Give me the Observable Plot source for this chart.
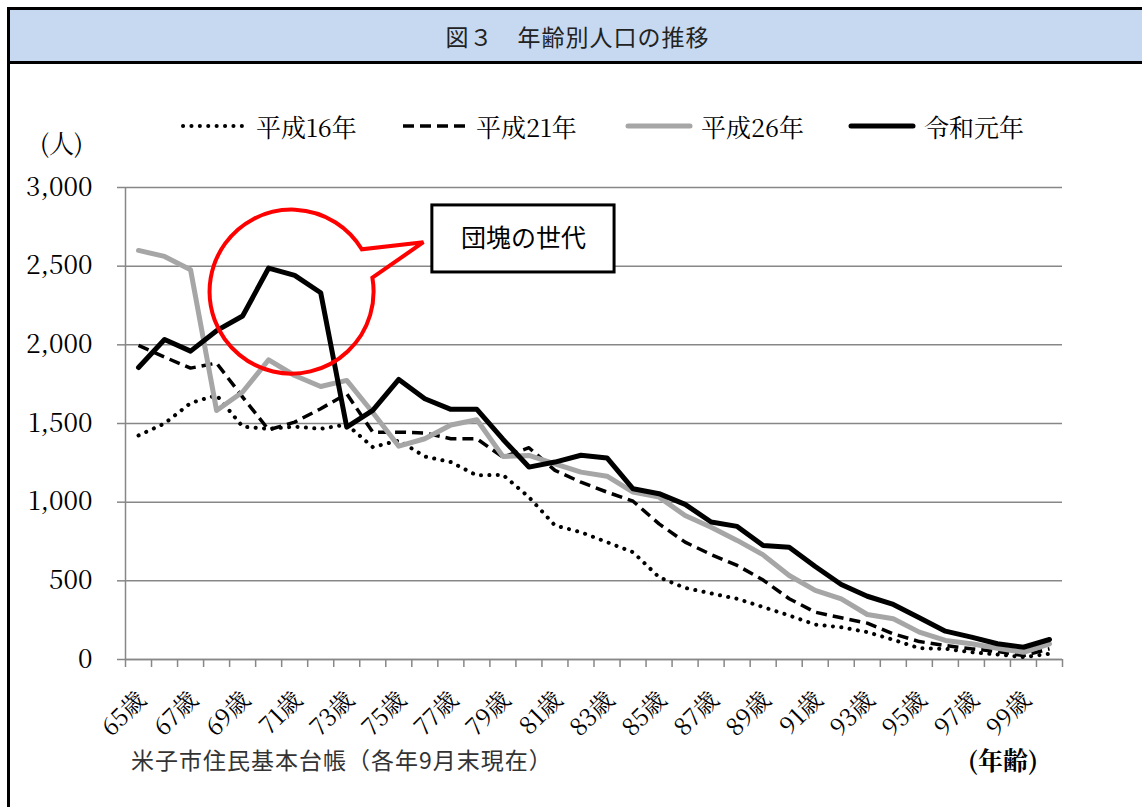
<!DOCTYPE html>
<html lang="ja">
<head>
<meta charset="utf-8">
<script src="https://cdn.jsdelivr.net/npm/d3@7"></script>
<script src="https://cdn.jsdelivr.net/npm/@observablehq/plot@0.6"></script>
<style>
  html, body { margin: 0; padding: 0; width: 1142px; height: 807px; overflow: hidden; background: #fff; }
  body { position: relative; font-family: "Noto Serif CJK JP", "Liberation Serif", serif; color: #000; }
  #frame { position: absolute; left: 7px; top: 7px; width: 1200px; height: 900px;
           border-left: 3px solid #000; border-top: 3px solid #000; }
  #header { position: absolute; left: 0; top: 0; width: 1135px; height: 51px;
            background: #c6d9f1; border-bottom: 3px solid #000;
            font-family: "Noto Sans CJK JP", sans-serif; font-size: 23px; letter-spacing: 1px; color: #222;
            display: flex; align-items: center; justify-content: center; }
  .abs { position: absolute; white-space: nowrap; }
  #unit { left: 40px; top: 124px; font-size: 25px; font-family: "Noto Serif CJK JP", serif; }
  #caption { left: 131px; top: 742px; font-size: 23px; letter-spacing: 1px; color: #333; font-family: "Noto Sans CJK JP", sans-serif; }
  #xunit { left: 968px; top: 741px; font-size: 25px; font-weight: bold; font-family: "Noto Serif CJK JP", serif; }
  .leg { position: absolute; top: 108px; display: flex; align-items: center; font-size: 25px;
         font-family: "Noto Serif CJK JP", serif; }
  .leg svg { margin-right: 8px; }
  #chart { position: absolute; left: 0; top: 160px; }
  #chart .ylab text { font-family: "Noto Serif CJK JP", "Liberation Serif", serif !important; }
  #chart .xlab text { font-family: "Noto Serif CJK JP", "Liberation Serif", serif !important; }
  #chart .callout text { font-family: "Noto Sans CJK JP", sans-serif !important; }
</style>
</head>
<body>
<div id="frame"><div id="header">図３　年齢別人口の推移</div></div>
<div id="legend"></div>
<div class="abs" id="unit">(人)</div>
<div class="abs" id="caption">米子市住民基本台帳（各年9月末現在）</div>
<div class="abs" id="xunit">(年齢)</div>
<div id="chart"></div>
<script>
// ---- data ----
const ages = [65,66,67,68,69,70,71,72,73,74,75,76,77,78,79,80,81,82,83,84,85,86,87,88,89,90,91,92,93,94,95,96,97,98,99,100];
const seriesNames = ["平成16年", "平成21年", "平成26年", "令和元年"];
const h16 = [1424,1500,1630,1680,1480,1466,1480,1466,1494,1350,1392,1290,1255,1170,1174,1032,852,809,746,682,523,455,420,386,333,280,222,205,174,125,72,68,46,32,15,36];
const h21 = [1996,1922,1852,1884,1668,1460,1509,1594,1689,1445,1445,1440,1403,1403,1286,1346,1202,1127,1064,1006,862,746,667,598,505,386,301,265,231,163,114,89,68,51,25,68];
const h26 = [2600,2562,2477,1583,1700,1905,1805,1735,1774,1570,1356,1403,1490,1524,1291,1297,1244,1191,1165,1064,1032,915,841,757,665,534,439,386,286,259,174,121,100,72,46,100];
const r1  = [1856,2034,1960,2090,2183,2488,2441,2331,1477,1583,1780,1657,1590,1590,1400,1223,1255,1298,1281,1085,1054,986,874,846,725,714,591,477,402,350,265,180,142,100,78,127];
const labelAges = [65,67,69,71,73,75,77,79,81,83,85,87,89,91,93,95,97,99];
const yTicks = [0,500,1000,1500,2000,2500,3000];
const calloutText = "団塊の世代";

// ---- styles ----
const styles = [
  {stroke: "#000", strokeWidth: 4, strokeDasharray: "0.1,8.3", strokeLinecap: "round"},
  {stroke: "#000", strokeWidth: 3.5, strokeDasharray: "11,6", strokeLinecap: "butt"},
  {stroke: "#a6a6a6", strokeWidth: 5, strokeLinecap: "round"},
  {stroke: "#000", strokeWidth: 5, strokeLinecap: "round"}
];
const allSeries = [h16, h21, h26, r1];
const tables = allSeries.map((vals, s) => ages.map((a, i) => ({age: a, value: vals[i], series: seriesNames[s]})));

// legend
const legendLeft = [180, 400, 625, 848];
const legend = document.getElementById("legend");
seriesNames.forEach((name, s) => {
  const st = styles[s];
  const div = document.createElement("div");
  div.className = "leg";
  div.style.left = legendLeft[s] + "px";
  div.innerHTML = `<svg width="68" height="12"><line x1="3" y1="6" x2="65" y2="6" stroke="${st.stroke}" stroke-width="${st.strokeWidth}" stroke-dasharray="${st.strokeDasharray || "none"}" stroke-linecap="${st.strokeLinecap}"/></svg><span>${name}</span>`;
  legend.appendChild(div);
});

// boundaries between age categories (tick marks)
const boundaries = ages.map(a => a - 0.5).concat([100.5]);

// callout geometry (data coordinates + pixel radius)
const bubble = {x: 70.9, y: 2335, r: 82};
function bubbleMark(index, scales) {
  const cx = scales.x(bubble.x), cy = scales.y(bubble.y), r = bubble.r;
  const a1 = Math.atan2(-14, 80.8), a2 = Math.atan2(-41.7, 69.2);
  const p1 = [cx + r * Math.cos(a1), cy + r * Math.sin(a1)];
  const p2 = [cx + r * Math.cos(a2), cy + r * Math.sin(a2)];
  const tip = [cx + 131.8, cy - 49.4];
  const path = document.createElementNS("http://www.w3.org/2000/svg", "path");
  path.setAttribute("d", `M${p1[0]},${p1[1]} A${r},${r} 0 1 1 ${p2[0]},${p2[1]} L${tip[0]},${tip[1]} Z`);
  path.setAttribute("fill", "none");
  path.setAttribute("stroke", "#ff0000");
  path.setAttribute("stroke-width", 4);
  path.setAttribute("stroke-linejoin", "miter");
  return path;
}

const chart = Plot.plot({
  width: 1142,
  height: 610,
  marginLeft: 125,
  marginRight: 80,
  marginTop: 27,
  marginBottom: 111,
  style: {fontFamily: "'Noto Serif CJK JP', 'Liberation Serif', serif", background: "transparent", overflow: "visible"},
  x: {domain: [64.5, 100.5], axis: null},
  y: {domain: [0, 3000], axis: null},
  marks: [
    Plot.gridY(yTicks, {stroke: "#878787", strokeOpacity: 1, strokeWidth: 1.5}),
    Plot.axisY(yTicks, {tickSize: 8, tickPadding: 25, stroke: "#878787", strokeWidth: 1.5, fontSize: 26, fill: "#000",
                        className: "ylab", fontFamily: "Noto Serif CJK JP", tickFormat: d => d3.format(",")(d)}),
    Plot.ruleX([64.5], {stroke: "#878787", strokeWidth: 1.5}),
    Plot.ruleY([0], {stroke: "#878787", strokeWidth: 1.5}),
    Plot.axisX(boundaries, {tickSize: 8, tickFormat: () => "", stroke: "#878787", strokeWidth: 1.5}),
    Plot.text(labelAges, {x: d => d, y: () => 0, text: d => d + "歳", rotate: -45, textAnchor: "end", lineAnchor: "bottom",
                          dx: 9, dy: 42, fontSize: 24, fill: "#000", className: "xlab", fontFamily: "Noto Serif CJK JP"}),
    ...tables.map((t, s) => Plot.line(t, {x: "age", y: "value", ...styles[s], strokeLinejoin: "round"})),
    bubbleMark,
    Plot.rect([{x1: 76.29, x2: 83.29, y1: 2460, y2: 2886}], {x1: "x1", x2: "x2", y1: "y1", y2: "y2", fill: "#fff", stroke: "#000", strokeWidth: 3}),
    Plot.text([calloutText], {x: 79.79, y: 2673, text: d => d, fontSize: 25, fill: "#000", className: "callout", fontFamily: "Noto Sans CJK JP"})
  ]
});
document.getElementById("chart").appendChild(chart);
</script>
</body>
</html>
